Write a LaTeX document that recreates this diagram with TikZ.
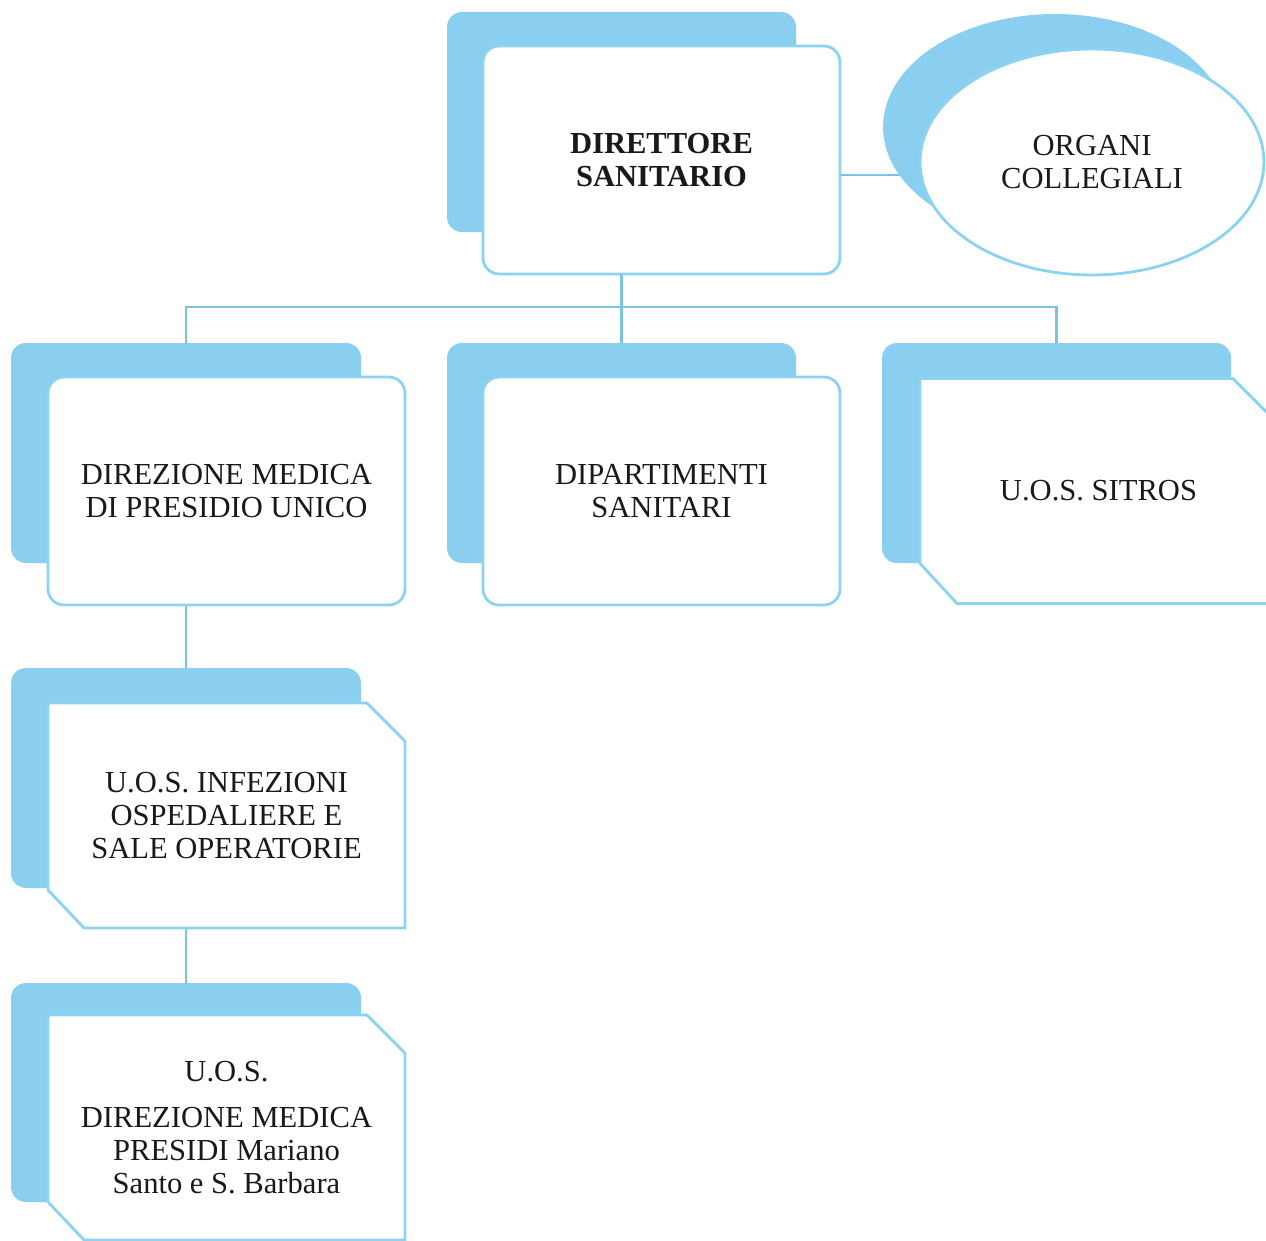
\documentclass[tikz,border=0pt]{standalone}
\usepackage{fontspec}
\setmainfont{Liberation Serif}
\usetikzlibrary{calc,shapes.geometric}
\definecolor{skyfill}{RGB}{138,207,240}
\definecolor{edge}{RGB}{140,210,242}
\definecolor{wire}{RGB}{124,194,228}
\definecolor{ink}{RGB}{25,25,25}
\tikzset{
  shadowbox/.style={draw=none, minimum width=6.98cm, minimum height=4.4cm, inner sep=0pt, outer sep=0pt},
  frontbox/.style={fill=white, draw=edge, line width=1.6pt, rounded corners=0.32cm, minimum width=7.14cm, minimum height=4.56cm, inner sep=0pt, outer sep=0pt, text=ink, align=center, font=\fontsize{17.4}{18.8}\selectfont},
  plainbox/.style={draw=none, minimum width=7.14cm, minimum height=4.5cm, inner sep=0pt, outer sep=0pt, text=ink, align=center, font=\fontsize{17.4}{18.8}\selectfont},
  chamferline/.style={fill=white, draw=edge, line width=1.6pt},
  skyshadow/.style={fill=skyfill, draw=none, rounded corners=0.3cm},
  wireline/.style={draw=wire, line width=1.5pt},
  thinwire/.style={draw=wire, line width=0.8pt},
}
\begin{document}
\begin{tikzpicture}[x=0.02cm, y=-0.02cm]
\useasboundingbox (0,0) rectangle (1266,1240);
\clip (0,0) rectangle (1266,1240);
\fill[white] (0,0) rectangle (1266,1240);

\coordinate (orgc) at (1092,162);
% invisible anchor nodes for the shadows
\node[shadowbox] (topsh) at (621.5,122) {};
\node[shadowbox] (ash) at (186,453) {};
\node[shadowbox] (bsh) at (621.5,453) {};
\node[shadowbox] (csh) at (1056.5,453) {};
\node[shadowbox] (dsh) at (186,778) {};
\node[shadowbox] (esh) at (186,1092.5) {};

\node[plainbox] (top) at (661.5,160) {};
\node[plainbox] (a) at (226.5,491) {};
\coordinate (j) at (621.5,307);
\coordinate (oc) at (905,175);

% connectors
\draw[thinwire] (top.east |- oc) -- (oc);
\draw[wireline] (bsh.north |- top.south) -- (bsh.north);
\draw[wireline] (ash.north) |- (j) -| (csh.north);
\draw[wireline] (a.south -| dsh.north) -- (dsh.north);
\draw[wireline] (dsh.south |- 0,928) -- (esh.north);

% shadows
\fill[skyshadow] (447,12) rectangle (796,232);
\fill[skyshadow] (11,343) rectangle (361,563);
\fill[skyshadow] (447,343) rectangle (796,563);
\fill[skyshadow] (882,343) rectangle (1231,563);
\fill[skyshadow] (11,668) rectangle (361,888);
\fill[skyshadow] (11,983) rectangle (361,1202);
\fill[skyfill] (1055,127) ellipse [x radius=3.44cm, y radius=2.26cm];

% front boxes
\node[frontbox, font=\fontsize{17.4}{18.8}\selectfont\bfseries] (topf) at (top) {DIRETTORE\\SANITARIO};
\node[frontbox] (af) at (a) {DIREZIONE MEDICA\\DI PRESIDIO UNICO};
\node[frontbox] (b) at (661.5,491) {DIPARTIMENTI\\SANITARI};

\node[ellipse, fill=white, draw=edge, line width=1.6pt, minimum width=6.88cm, minimum height=4.52cm, inner sep=0pt, text=ink, align=center, font=\fontsize{17.4}{18.8}\selectfont] (org) at (orgc) {ORGANI\\COLLEGIALI};

% chamfered boxes
\node[plainbox] (c) at (1098.5,491) {};
\draw[chamferline] (c.north west) -- ([xshift=-0.88cm]c.north east) -- ([yshift=-0.88cm]c.north east) -- (c.south east) -- ([xshift=0.74cm]c.south west) -- ([yshift=0.8cm]c.south west) -- cycle;
\node[plainbox] at (c) {U.O.S. SITROS};

\node[plainbox] (d) at (226.5,815.5) {};
\draw[chamferline] (d.north west) -- ([xshift=-0.76cm]d.north east) -- ([yshift=-0.76cm]d.north east) -- (d.south east) -- ([xshift=0.72cm]d.south west) -- ([yshift=0.76cm]d.south west) -- cycle;
\node[plainbox] at (d) {U.O.S. INFEZIONI\\OSPEDALIERE E\\SALE OPERATORIE};

\node[plainbox] (e) at (226.5,1127.5) {};
\draw[chamferline] (e.north west) -- ([xshift=-0.76cm]e.north east) -- ([yshift=-0.76cm]e.north east) -- (e.south east) -- ([xshift=0.72cm]e.south west) -- ([yshift=0.76cm]e.south west) -- cycle;
\node[plainbox] at (e) {U.O.S.\\[7pt]DIREZIONE MEDICA\\PRESIDI Mariano\\Santo e S. Barbara};
\end{tikzpicture}
\end{document}
